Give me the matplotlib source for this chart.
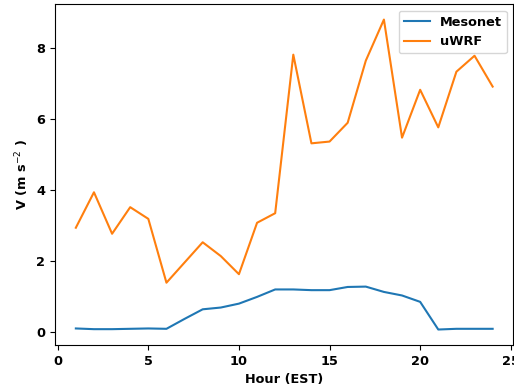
import matplotlib
matplotlib.use("Agg")
import matplotlib.pyplot as plt

# hours and wind speeds
hours = list(range(1, 25))
mesonet = [0.10, 0.08, 0.08, 0.09, 0.10, 0.09, 0.37, 0.64, 0.69, 0.80,
           0.99, 1.20, 1.20, 1.18, 1.18, 1.27, 1.28, 1.13, 1.03, 0.85,
           0.07, 0.09, 0.09, 0.09]
uwrf = [2.94, 3.94, 2.77, 3.52, 3.19, 1.39, 1.96, 2.53, 2.14, 1.63,
        3.08, 3.35, 7.82, 5.32, 5.37, 5.90, 7.65, 8.81, 5.48, 6.83,
        5.77, 7.34, 7.79, 6.92]

plt.rcParams["font.size"] = 9.3

fig = plt.figure(figsize=(5.14, 3.91), dpi=100)
# the reference is cropped tight, right spine sits on the image edge
ax = fig.add_axes([0.107, 0.1176, 0.892, 0.872])

ax.plot(hours, mesonet, label="Mesonet")
ax.plot(hours, uwrf, label="uWRF")

ax.set_xlabel("Hour (EST)", fontweight="bold")
ax.set_ylabel(r"V (m s$^{-2}$ )", fontweight="bold")
ax.set_xticks([0, 5, 10, 15, 20, 25])
for lbl in ax.get_xticklabels() + ax.get_yticklabels():
    lbl.set_fontweight("bold")

ax.legend(loc="upper right", prop={"weight": "bold"})

fig.savefig("out.png", dpi=100)
